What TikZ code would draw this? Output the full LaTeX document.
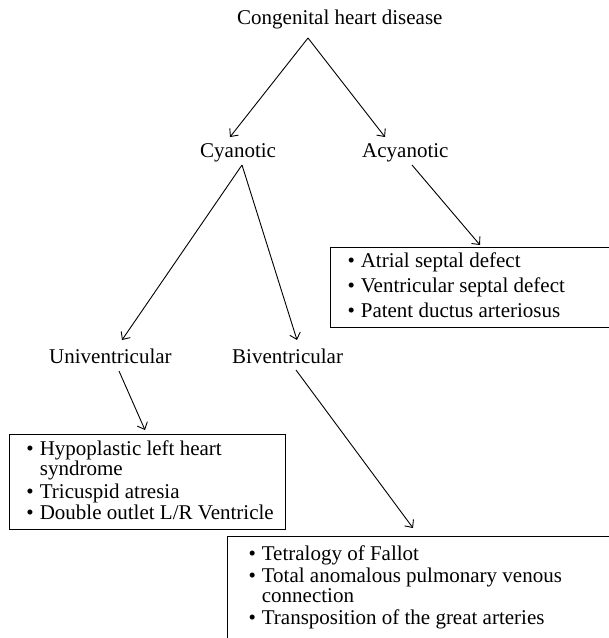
\documentclass[tikz,border=0pt]{standalone}
\usepackage{fontspec}
\setmainfont{Liberation Serif}
\usetikzlibrary{arrows.meta}
\newcommand{\bul}{\textbullet\hspace{6pt}}
\newcommand{\hng}{\phantom{\textbullet}\hspace{6pt}}
\newcommand{\boxtext}[4]{\parbox[b][#1][t]{#2}{\fontsize{21}{20}\selectfont\lineskiplimit=-100pt\lineskip=0pt\raggedright\leftskip=#3\relax #4}}
\begin{document}
\begin{tikzpicture}[x=1pt,y=1pt,
  lbl/.style={inner sep=0pt, anchor=base west, font=\fontsize{21}{21}\selectfont},
  box/.style={draw, line width=1pt, inner sep=0pt, anchor=north west},
  arr/.style={-{Straight Barb[length=6pt,width=11pt]}, line width=0.9pt}]
\useasboundingbox (0,0) rectangle (609,-638);
\fill[white] (0,0) rectangle (609,-638);
% labels
\node[lbl] (title) at (237,-24) {Congenital heart disease};
\node[lbl] (cy) at (200,-157) {Cyanotic};
\node[lbl] (acy) at (362,-157) {Acyanotic};
\node[lbl] (uni) at (49,-363) {Univentricular};
\node[lbl] (bi) at (232,-363) {Biventricular};
% boxes
\node[box] (b1) at (330,-247) {\boxtext{80pt}{300pt}{17pt}{\rule{0pt}{20pt}\bul Atrial septal defect\\[5pt]\bul Ventricular septal defect\\[5pt]\bul Patent ductus arteriosus}};
\node[box] (b2) at (9,-434) {\boxtext{95pt}{276pt}{17pt}{\rule{0pt}{21pt}\bul Hypoplastic left heart\\\hng syndrome\\[3pt]\bul Tricuspid atresia\\[1pt]\bul Double outlet L/R Ventricle}};
\node[box] (b3) at (227,-536) {\boxtext{130pt}{400pt}{21pt}{\rule{0pt}{24pt}\bul Tetralogy of Fallot\\[2pt]\bul Total anomalous pulmonary venous\\\hng connection\\[2pt]\bul Transposition of the great arteries}};
% connectors
\draw[arr] ([xshift=71pt,yshift=-14pt]title.base west) -- ([xshift=30pt,yshift=20pt]cy.base west);
\draw[arr] ([xshift=71pt,yshift=-14pt]title.base west) -- ([xshift=23pt,yshift=20pt]acy.base west);
\draw[arr] ([xshift=42pt,yshift=-8pt]cy.base west) -- ([xshift=73pt,yshift=23pt]uni.base west);
\draw[arr] ([xshift=42pt,yshift=-8pt]cy.base west) -- ([xshift=65pt,yshift=23pt]bi.base west);
\draw[arr] ([xshift=50pt,yshift=-8pt]acy.base west) -- ([xshift=150pt,yshift=2pt]b1.north west);
\draw[arr] ([xshift=70pt,yshift=-8pt]uni.base west) -- ([xshift=136pt,yshift=4pt]b2.north west);
\draw[arr] ([xshift=64pt,yshift=-7pt]bi.base west) -- ([xshift=186pt,yshift=8pt]b3.north west);
\end{tikzpicture}
\end{document}
